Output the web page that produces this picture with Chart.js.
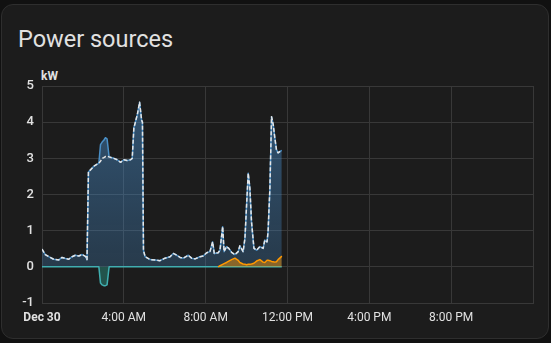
<!DOCTYPE html>
<html>
<head>
<meta charset="utf-8">
<script src="https://cdn.jsdelivr.net/npm/chart.js@4.4.1/dist/chart.umd.min.js"></script>
<style>
  html, body { margin: 0; padding: 0; background: #111111; width: 551px; height: 343px; overflow: hidden; }
  .card {
    position: absolute; left: 1px; top: 4px; width: 546px; height: 333px;
    background: #1c1c1c; border: 1px solid #2e2e2e; border-radius: 12px;
  }
  .title {
    position: absolute; left: 18px; top: 25px;
    font-family: Roboto, "Noto Sans", sans-serif; font-size: 23.5px; color: #e1e1e1;
  }
  .unit {
    position: absolute; left: 41px; top: 69px;
    font-family: Roboto, sans-serif; font-size: 12px; font-weight: bold; color: #e1e1e1;
  }
  .wrap { position: absolute; left: 0; top: 60px; width: 551px; height: 270px; }
</style>
</head>
<body>
<div class="card"></div>
<div class="title">Power sources</div>
<div class="unit">kW</div>
<div class="wrap"><canvas id="chart"></canvas></div>
<script>
// hours since midnight (Dec 30)
const hours = [
  0, 0.16, 0.33, 0.57, 0.82, 0.98, 1.14, 1.31, 1.47, 1.63,
  1.80, 1.96, 2.12, 2.20, 2.27, 2.53, 2.78, 2.86, 2.94, 3.02,
  3.10, 3.18, 3.28, 3.51, 3.68, 3.84, 4.00, 4.16, 4.33, 4.41,
  4.49, 4.66, 4.77, 4.87, 4.91, 4.96, 5.04, 5.28, 5.53, 5.77,
  6.01, 6.26, 6.42, 6.59, 6.75, 6.91, 7.15, 7.31, 7.48, 7.72,
  7.88, 8.05, 8.21, 8.34, 8.42, 8.61, 8.70, 8.83, 8.90, 9.02,
  9.13, 9.27, 9.43, 9.59, 9.67, 9.83, 9.92, 10.00, 10.08, 10.16,
  10.24, 10.36, 10.49, 10.65, 10.81, 10.89, 11.00, 11.05, 11.14, 11.22,
  11.30, 11.38, 11.46, 11.54, 11.66, 11.72
];

// total consumption (kW)
const usageKw = [
  0.49, 0.34, 0.28, 0.21, 0.19, 0.26, 0.23, 0.21, 0.28, 0.32,
  0.30, 0.34, 0.29, 0.20, 2.62, 2.78, 2.87, 2.92, 3.00, 3.02,
  3.05, 3.06, 3.04, 3.00, 2.96, 2.89, 2.96, 2.94, 2.96, 3.00,
  3.84, 4.21, 4.55, 4.05, 4.00, 0.46, 0.28, 0.20, 0.19, 0.17,
  0.24, 0.28, 0.37, 0.32, 0.26, 0.24, 0.32, 0.24, 0.22, 0.28,
  0.30, 0.39, 0.42, 0.69, 0.37, 0.39, 0.46, 1.11, 0.42, 0.56,
  0.51, 0.40, 0.34, 0.42, 0.58, 0.42, 0.79, 1.71, 2.59, 2.18,
  1.25, 0.51, 0.46, 0.56, 0.51, 0.74, 0.69, 0.97, 2.18, 4.15,
  3.94, 3.57, 3.24, 3.15, 3.20, 3.22
];

// from grid (kW)
const gridKw = [
  0.49, 0.34, 0.28, 0.21, 0.19, 0.26, 0.23, 0.21, 0.28, 0.32,
  0.30, 0.34, 0.29, 0.20, 2.62, 2.78, 2.87, 3.38, 3.45, 3.50,
  3.57, 3.54, 3.04, 3.00, 2.96, 2.89, 2.96, 2.94, 2.96, 3.00,
  3.84, 4.21, 4.55, 4.05, 4.00, 0.46, 0.28, 0.20, 0.19, 0.17,
  0.24, 0.28, 0.37, 0.32, 0.26, 0.24, 0.32, 0.24, 0.22, 0.28,
  0.30, 0.39, 0.42, 0.69, 0.37, 0.39, 0.46, 1.11, 0.42, 0.56,
  0.51, 0.40, 0.34, 0.42, 0.58, 0.42, 0.79, 1.71, 2.59, 2.18,
  1.25, 0.51, 0.46, 0.56, 0.51, 0.74, 0.69, 0.97, 2.18, 4.15,
  3.94, 3.57, 3.24, 3.15, 3.20, 3.22
];

// battery (negative = charging)
const batteryKw = [
  0, 0, 0, 0, 0, 0, 0, 0, 0, 0,
  0, 0, 0, 0, 0, 0, 0, -0.45, -0.50, -0.52,
  -0.52, -0.50, 0, 0, 0, 0, 0, 0, 0, 0,
  0, 0, 0, 0, 0, 0, 0, 0, 0, 0,
  0, 0, 0, 0, 0, 0, 0, 0, 0, 0,
  0, 0, 0, 0, 0, 0, 0, 0, 0, 0,
  0, 0, 0, 0, 0, 0, 0, 0, 0, 0,
  0, 0, 0, 0, 0, 0, 0, 0, 0, 0,
  0, 0, 0, 0, 0, 0
];

// solar only starts after sunrise
const solarHours = [
  8.61, 8.70, 8.83, 8.90, 9.02, 9.13, 9.27, 9.43, 9.59, 9.67,
  9.83, 9.92, 10.00, 10.08, 10.16, 10.24, 10.36, 10.49, 10.65, 10.81,
  10.89, 11.00, 11.05, 11.14, 11.22, 11.30, 11.38, 11.46, 11.54, 11.66, 11.72
];
const solarKw = [
  0.00, 0.03, 0.07, 0.09, 0.12, 0.16, 0.20, 0.24, 0.18, 0.12,
  0.08, 0.07, 0.06, 0.07, 0.07, 0.08, 0.10, 0.16, 0.20, 0.13,
  0.12, 0.18, 0.18, 0.17, 0.15, 0.14, 0.13, 0.14, 0.20, 0.26, 0.30
];

const xTickLabels = { 0: 'Dec 30', 4: '4:00 AM', 8: '8:00 AM', 12: '12:00 PM', 16: '4:00 PM', 20: '8:00 PM' };

const pts = (xs, ys) => xs.map((x, i) => ({ x, y: ys[i] }));

function gridFill(context) {
  const chart = context.chart;
  const area = chart.chartArea;
  if (!area) return 'rgba(70,140,200,0.35)';
  const y0 = chart.scales.y.getPixelForValue(0);
  const g = chart.ctx.createLinearGradient(0, area.top, 0, y0);
  g.addColorStop(0, 'rgba(72,142,205,0.5)');
  g.addColorStop(1, 'rgba(72,142,205,0.27)');
  return g;
}

const gridColor = '#383838';
const textColor = '#e1e1e1';

new Chart(document.getElementById('chart'), {
  type: 'line',
  data: {
    datasets: [
      {
        label: 'Consumption',
        data: pts(hours, usageKw),
        borderColor: '#e6e6e6',
        borderWidth: 1.5,
        borderDash: [4, 2],
        fill: false,
        order: 0
      },
      {
        label: 'Solar',
        data: pts(solarHours, solarKw),
        borderColor: '#ff9800',
        backgroundColor: 'rgba(255,152,0,0.45)',
        borderWidth: 1.5,
        fill: 'origin',
        order: 1
      },
      {
        label: 'Battery',
        data: pts(hours, batteryKw),
        borderColor: '#40aeb0',
        backgroundColor: 'rgba(45,190,165,0.35)',
        borderWidth: 1.5,
        fill: 'origin',
        order: 2
      },
      {
        label: 'Grid',
        data: pts(hours, gridKw),
        borderColor: '#4a8fc6',
        backgroundColor: gridFill,
        borderWidth: 1.5,
        fill: 'origin',
        order: 3
      }
    ]
  },
  options: {
    responsive: true,
    maintainAspectRatio: false,
    animation: false,
    layout: { padding: { top: 26, right: 18, left: 0, bottom: 0 } },
    elements: { point: { radius: 0 }, line: { tension: 0, borderJoinStyle: 'round' } },
    plugins: { legend: { display: false }, tooltip: { enabled: false } },
    scales: {
      x: {
        type: 'linear',
        min: 0,
        max: 24,
        afterFit: s => { s.height = 27; },
        grid: { color: gridColor, drawTicks: false },
        border: { color: gridColor },
        ticks: {
          stepSize: 4,
          autoSkip: false,
          maxRotation: 0,
          padding: 8,
          color: textColor,
          font: ctx => ({ family: 'Roboto', size: 12, weight: ctx.tick && ctx.tick.value === 0 ? 'bold' : 'normal' }),
          callback: v => xTickLabels[v] || ''
        }
      },
      y: {
        min: -1,
        max: 5,
        afterFit: s => { s.width = 42; },
        grid: { color: gridColor, drawTicks: false },
        border: { color: gridColor },
        ticks: {
          stepSize: 1,
          padding: 8,
          color: textColor,
          font: { family: 'Roboto', size: 13, weight: '500' }
        }
      }
    }
  }
});
</script>
</body>
</html>
